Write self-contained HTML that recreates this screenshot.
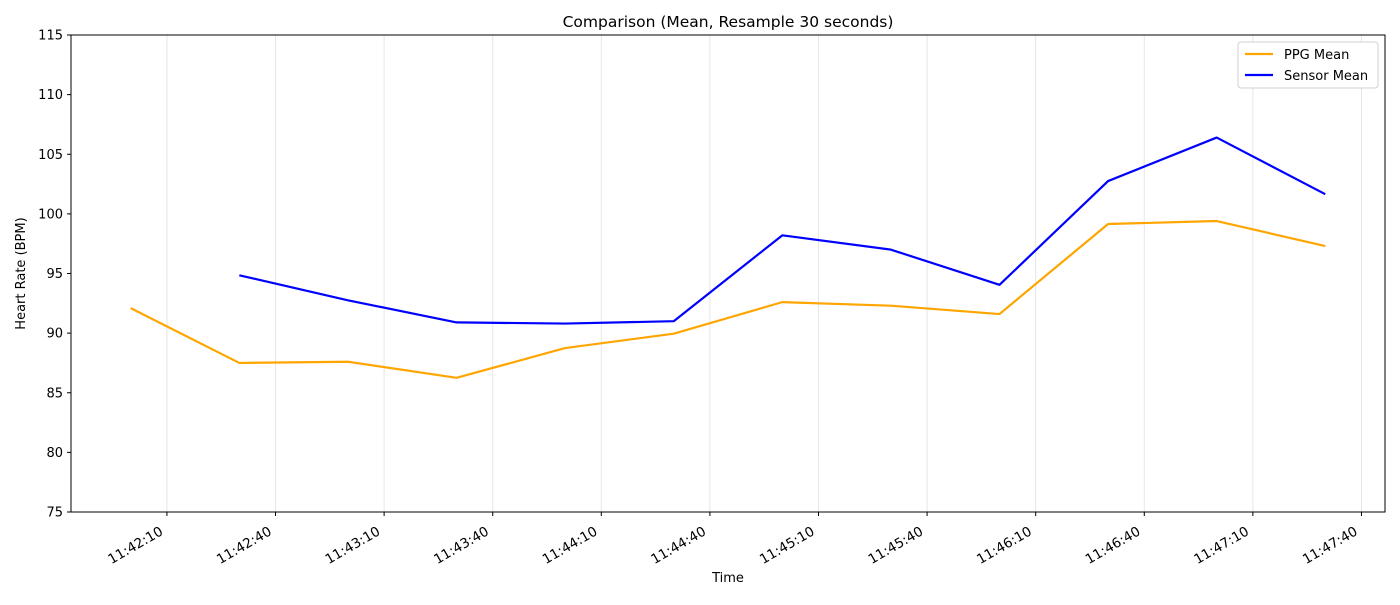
<!DOCTYPE html>
<html><head><meta charset="utf-8"><style>
body{margin:0;background:#fff;font-family:"Liberation Sans","DejaVu Sans",sans-serif}
text{font-family:"DejaVu Sans","Liberation Sans",sans-serif;fill:#000}
</style></head><body>
<svg id="chart" width="1400" height="600" xmlns="http://www.w3.org/2000/svg"></svg>
<script>
const times = [0,30,60,90,120,150,180,210,240,270,300,330]; // seconds after 11:42:00
const ppgMean = [92.1,87.5,87.6,86.25,88.75,89.95,92.6,92.3,91.6,99.15,99.4,97.3];
const sensorTimes = [30,60,90,120,150,180,210,240,270,300,330];
const sensorMean = [94.85,92.75,90.9,90.8,91.0,98.2,97.0,94.05,102.75,106.4,101.65];
const yTicks = [75,80,85,90,95,100,105,110,115];
const xTicks = [10,40,70,100,130,160,190,220,250,280,310,340];
const xTickLabels = ["11:42:10","11:42:40","11:43:10","11:43:40","11:44:10","11:44:40","11:45:10","11:45:40","11:46:10","11:46:40","11:47:10","11:47:40"];

const L=71,R=1385,T=35,B=512;
const xMin=-16.5,xMax=346.5,yMin=75,yMax=115;
const X=t=>L+(t-xMin)/(xMax-xMin)*(R-L);
const Y=v=>B-(v-yMin)/(yMax-yMin)*(B-T);
const svg=document.getElementById('chart');
const NS='http://www.w3.org/2000/svg';
function mk(tag,attrs,parent){const e=document.createElementNS(NS,tag);for(const k in attrs)e.setAttribute(k,attrs[k]);(parent||svg).appendChild(e);return e;}

xTicks.forEach((t,i)=>{
  const g=mk('line',{x1:X(t),x2:X(t),y1:T,y2:B,stroke:'#e6e6e6','stroke-width':1});
  
  
});
const fr=mk('rect',{x:L,y:T,width:R-L,height:B-T,fill:'none',stroke:'#000','stroke-width':1});


yTicks.forEach(v=>{
  const y=Y(v);
  const tk=mk('line',{x1:L-4,x2:L,y1:y,y2:y,stroke:'#000'});
  
  
  const tx=mk('text',{x:L-8,y:y+4.5,'text-anchor':'end','font-size':13});
  tx.textContent=v;
  
  
});
xTicks.forEach((t,i)=>{
  const x=X(t);
  const tk=mk('line',{x1:x,x2:x,y1:B,y2:B+4,stroke:'#000'});
  
  
  const ax=x-3, ay=B+22;
  const tx=mk('text',{x:ax,y:ay,'text-anchor':'end','font-size':13.5,transform:`rotate(-30 ${ax} ${ay})`});
  tx.textContent=xTickLabels[i];
  
  
});
function line(ts,vs,color,name){
  const p=mk('polyline',{points:ts.map((t,i)=>X(t)+','+Y(vs[i])).join(' '),fill:'none',stroke:color,'stroke-width':2.2,'stroke-linejoin':'round'});
  
  
}
line(times,ppgMean,'orange','ppg-mean-line');
line(sensorTimes,sensorMean,'blue','sensor-mean-line');
let t=mk('text',{x:(L+R)/2,y:27,'text-anchor':'middle','font-size':15.5});t.textContent='Comparison (Mean, Resample 30 seconds)';

t=mk('text',{x:(L+R)/2,y:582,'text-anchor':'middle','font-size':13});t.textContent='Time';

t=mk('text',{x:25,y:(T+B)/2,'text-anchor':'middle','font-size':13,transform:`rotate(-90 25 ${(T+B)/2})`});t.textContent='Heart Rate (BPM)';

const lg=mk('g',{});


mk('rect',{x:1238,y:42,width:140,height:46,rx:3,fill:'#fff',stroke:'#d0d0d0'},lg);
[['PPG Mean','orange',59],['Sensor Mean','blue',80]].forEach(([n,c,y])=>{
  const g=mk('g',{},lg);
  
  
  mk('line',{x1:1245,x2:1273,y1:y-5,y2:y-5,stroke:c,'stroke-width':2.2},g);
  const tx=mk('text',{x:1284,y:y,'font-size':13},g);tx.textContent=n;
});
</script>
</body></html>
